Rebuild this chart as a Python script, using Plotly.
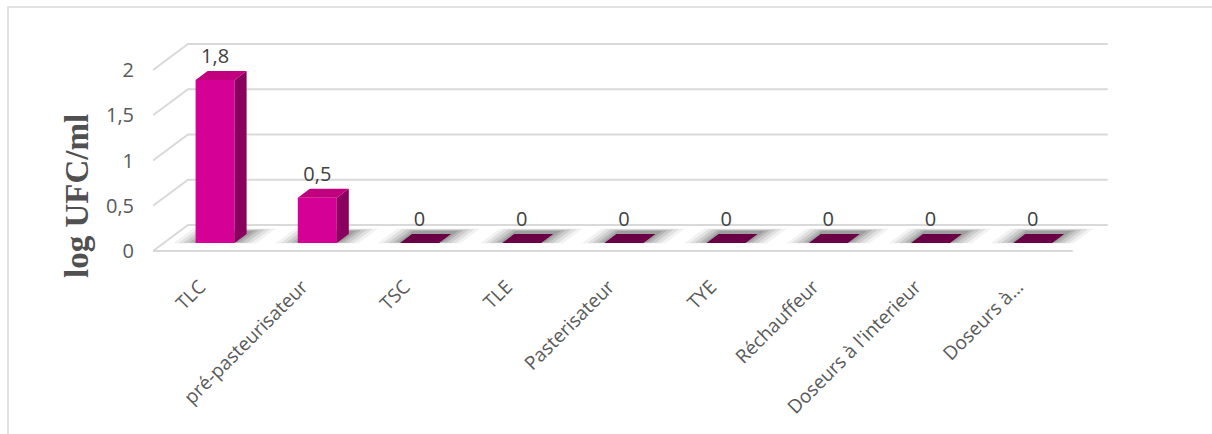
import plotly.graph_objects as go

categories = ["TLC", "pré-pasteurisateur", "TSC", "TLE", "Pasterisateur", "TYE",
              "Réchauffeur", "Doseurs à l'interieur", "Doseurs à…"]
values = [1.8, 0.5, 0, 0, 0, 0, 0, 0, 0]
value_labels = ["1,8", "0,5", "0", "0", "0", "0", "0", "0", "0"]
y_ticks = [0, 0.5, 1, 1.5, 2]
y_tick_labels = ["0", "0,5", "1", "1,5", "2"]

W, H = 1212, 434
ML, MR, MT, MB = 153, 102, 35, 179
PX_X, PX_Y = 102.2, 90.5
x_range = [-0.5, -0.5 + (W - ML - MR) / PX_X]
y_top = (251 - MT) / PX_Y
y_range = [y_top - (H - MT - MB) / PX_Y, y_top]

# depth geometry (pixels converted to data units)
WALL_DX, WALL_DY = 35 / PX_X, 26 / PX_Y
BAR_DX, BAR_DY = 11 / PX_X, 8 / PX_Y
DEP_DX, DEP_DY = 12 / PX_X, 9 / PX_Y
BAR_W = 39 / PX_X
SLOPE = 35 / 26
LABEL_SHIFT = -4 / PX_X

FRONT = "#D50096"
SIDE = "#8A005E"
TOP = "#C2007F"
ZERO_TOP = "#6A0046"
GRID = "#D9D9D9"
TXT = "#595959"

n = len(categories)
shapes = []


def path(points):
    return "M " + " L ".join(f"{x},{y}" for x, y in points) + " Z"


# gridlines: left side wall diagonals + back wall
for v in y_ticks:
    pts = [(-0.5, v), (-0.5 + WALL_DX, v + WALL_DY), (n - 0.5 + WALL_DX, v + WALL_DY)]
    shapes.append(dict(type="path", xref="x", yref="y", layer="below",
                       path="M " + " L ".join(f"{x},{y}" for x, y in pts),
                       line=dict(color=GRID, width=2)))
shapes.append(dict(type="line", xref="x", yref="y", layer="below",
                   x0=-0.5, y0=0, x1=n - 0.5, y1=0, line=dict(color=GRID, width=2)))

# floor shadows (layered for a soft look)
for e, d0, d1, a in [(22, 7.5, 22.5, 0.05), (17, 8, 22, 0.07), (12, 8, 21.5, 0.09),
                     (7, 8.5, 21, 0.11), (3, 8.5, 20, 0.12)]:
    for i, v in enumerate(values):
        xl = i + BAR_DX - BAR_W / 2 - e / PX_X
        xr = i + BAR_DX + BAR_W / 2 + e / PX_X

        def pt(x, d):
            return x + (d - 8) * SLOPE / PX_X, d / PX_Y
        pts = [pt(xl, d0), pt(xr, d0), pt(xr, d1), pt(xl, d1)]
        shapes.append(dict(type="path", xref="x", yref="y", layer="below", path=path(pts),
                           fillcolor=f"rgba(0,0,0,{a})", line=dict(width=0)))

# outer frame
shapes.append(dict(type="rect", xref="paper", yref="paper",
                   x0=(8 - ML) / (W - ML - MR), x1=(W + 5 - ML) / (W - ML - MR),
                   y0=-(MB + 10) / (H - MT - MB), y1=(H - MB - 7) / (H - MT - MB),
                   line=dict(color="#D9D9D9", width=1.5), fillcolor="rgba(0,0,0,0)",
                   layer="below"))

fig = go.Figure()

# front faces
fig.add_trace(go.Bar(x=[i + BAR_DX for i in range(n)], y=values, base=BAR_DY,
                     width=BAR_W, marker=dict(color=FRONT, line=dict(width=0)),
                     hoverinfo="skip", showlegend=False))

# side faces
sx, sy = [], []
for i, v in enumerate(values):
    if v <= 0:
        continue
    xr = i + BAR_DX + BAR_W / 2
    sx += [xr, xr + DEP_DX, xr + DEP_DX, xr, xr, None]
    sy += [BAR_DY, BAR_DY + DEP_DY, v + BAR_DY + DEP_DY, v + BAR_DY, BAR_DY, None]
fig.add_trace(go.Scatter(x=sx, y=sy, mode="lines", fill="toself", fillcolor=SIDE,
                         line=dict(width=0), hoverinfo="skip", showlegend=False))

# top faces
for positive, col in [(True, TOP), (False, ZERO_TOP)]:
    tx, ty = [], []
    for i, v in enumerate(values):
        if (v > 0) != positive:
            continue
        xl = i + BAR_DX - BAR_W / 2
        xr = xl + BAR_W
        yt = v + BAR_DY
        tx += [xl, xr, xr + DEP_DX, xl + DEP_DX, xl, None]
        ty += [yt, yt, yt + DEP_DY, yt + DEP_DY, yt, None]
    fig.add_trace(go.Scatter(x=tx, y=ty, mode="lines", fill="toself", fillcolor=col,
                             line=dict(width=0), hoverinfo="skip", showlegend=False))

# data labels
fig.add_trace(go.Scatter(x=[i + BAR_DX for i in range(n)],
                         y=[v + BAR_DY + DEP_DY + 0.14 for v in values],
                         mode="text", text=value_labels, textposition="middle center",
                         textfont=dict(family="Open Sans", size=20, color="#404040"),
                         cliponaxis=False, hoverinfo="skip", showlegend=False))

fig.update_layout(
    width=W, height=H,
    margin=dict(l=ML, r=MR, t=MT, b=MB),
    paper_bgcolor="white", plot_bgcolor="rgba(0,0,0,0)",
    font=dict(family="Open Sans", color=TXT),
    showlegend=False,
    xaxis=dict(range=x_range, tickmode="array",
               tickvals=[i + LABEL_SHIFT for i in range(n)], ticktext=categories,
               tickangle=-45, showgrid=False, zeroline=False, showline=False, ticks="",
               tickfont=dict(family="Open Sans", size=19, color=TXT), ticklabelstandoff=16,
               fixedrange=True),
    yaxis=dict(range=y_range, tickmode="array", tickvals=y_ticks, ticktext=y_tick_labels,
               showgrid=False, zeroline=False, showline=False, ticks="",
               tickfont=dict(family="Open Sans", size=20, color=TXT), ticklabelstandoff=18,
               fixedrange=True),
    shapes=shapes,
    annotations=[dict(text="<b>log UFC/ml</b>", textangle=-90, showarrow=False,
                      xref="paper", yref="paper",
                      x=(77 - ML) / (W - ML - MR), y=(H - MB - 196) / (H - MT - MB),
                      xanchor="center", yanchor="middle",
                      font=dict(family="Liberation Serif", size=33, color="#505050"))],
)

fig.write_html("out.html")
